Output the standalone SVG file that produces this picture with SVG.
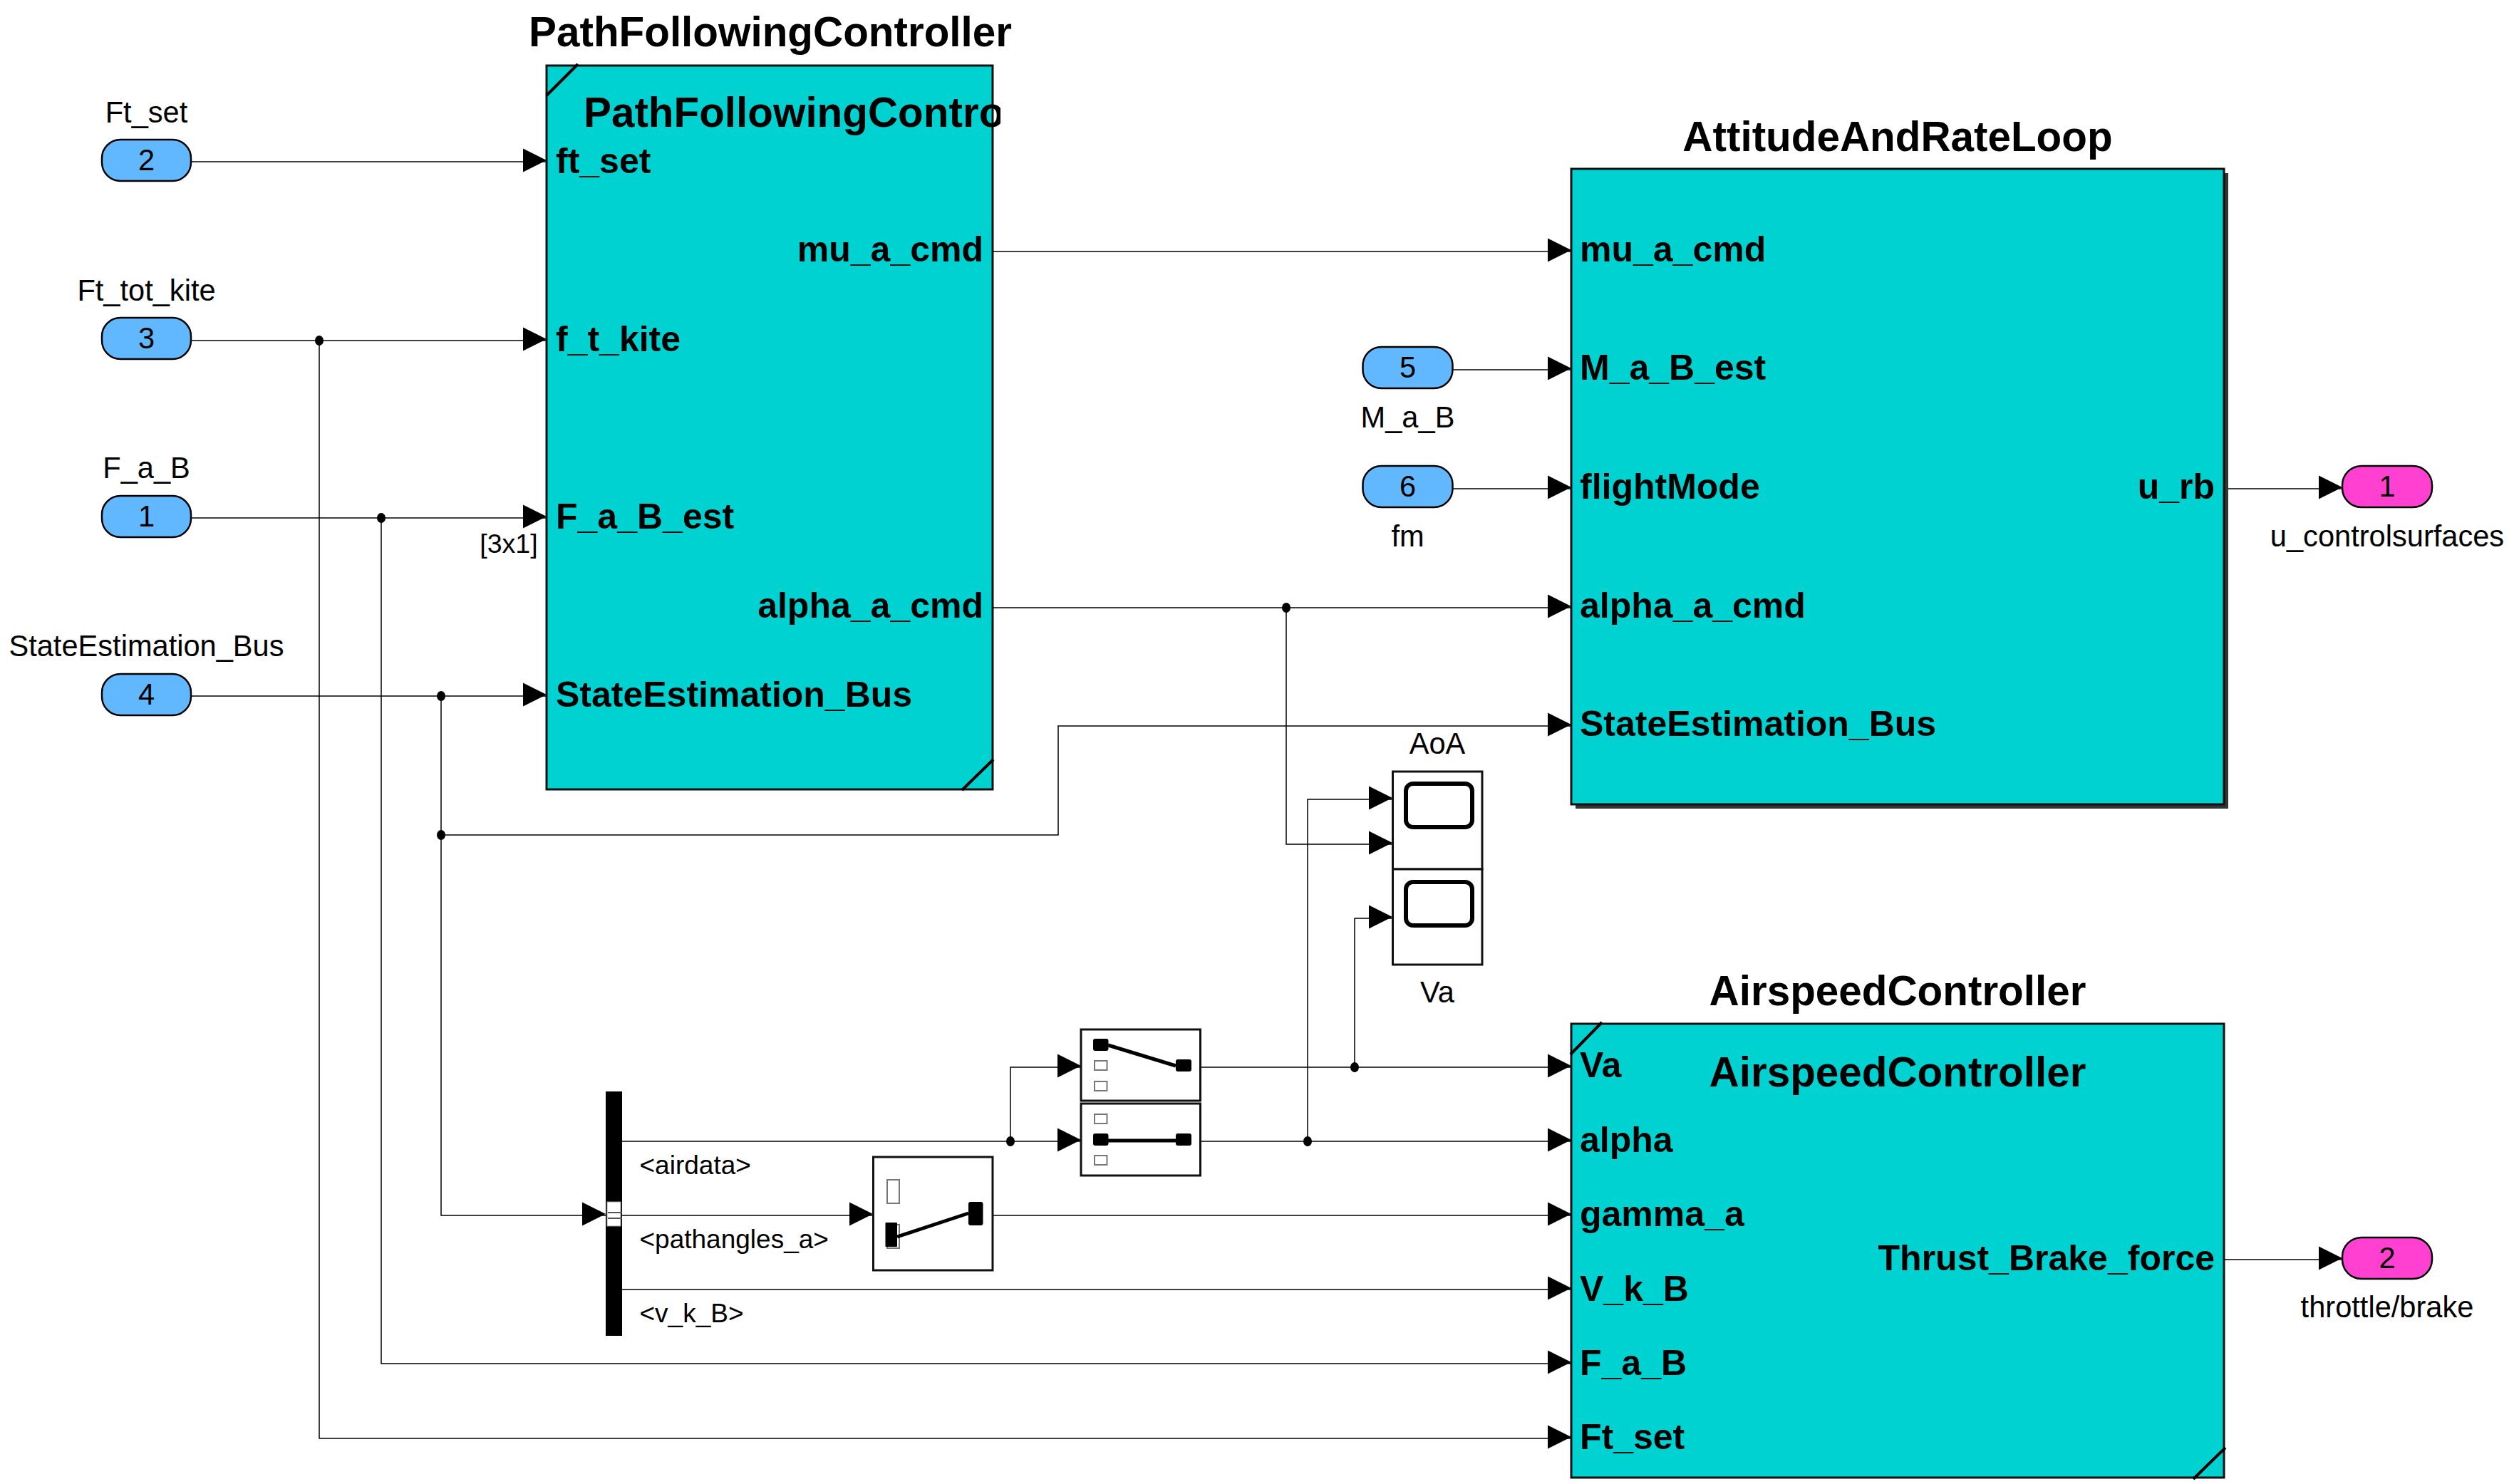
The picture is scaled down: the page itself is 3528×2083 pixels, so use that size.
<svg xmlns="http://www.w3.org/2000/svg" width="3528" height="2083" viewBox="0 0 3528 2083">
<style>
text{font-family:"Liberation Sans",Arial,sans-serif;fill:#000}
.l{font-size:41.600px;text-anchor:middle}
.s{font-size:37px}
.t{font-size:58.400px;font-weight:bold;text-anchor:middle}
.p{font-size:50px;font-weight:bold}
.r{text-anchor:end}
.blk{fill:#00d2d2;stroke:#111;stroke-width:3}
.c{fill:none;stroke:#000;stroke-width:4}
.in{fill:#62b8ff;stroke:#000;stroke-width:2.500}
.out{fill:#ff40d0;stroke:#000;stroke-width:2.500}
.w{fill:none;stroke:#000;stroke-width:1.500}
.a{marker-end:url(#arrow)}
.box{fill:#fff;stroke:#111;stroke-width:3}
.scr{fill:#fff;stroke:#000;stroke-width:6}
.pin{fill:#000}
.off{fill:#fff;stroke:#777;stroke-width:2}
.arm{stroke:#000;stroke-width:5;fill:none}
</style>
<defs>
<marker id="arrow" markerUnits="userSpaceOnUse" markerWidth="33" markerHeight="36" viewBox="0 0 33 36" refX="33" refY="20" orient="auto"><path d="M0 1.500L33 18L0 34.500Z" fill="#000"/></marker>
<clipPath id="pfclip"><rect x="760" y="90" width="644" height="1020"/></clipPath>
</defs>
<rect width="3528" height="2083" fill="#fff"/>

<g id="PathFollowingController">
<rect class="blk" x="767" y="92" width="626" height="1016"/>
<path class="c" d="M767 134L811 90M1350 1109L1394 1066"/>
<text class="t" x="1081" y="65">PathFollowingController</text>
<text class="t" x="819" y="178" style="text-anchor:start" clip-path="url(#pfclip)">PathFollowingContro</text>
<text class="p" x="780" y="243">ft_set</text>
<text class="p" x="780" y="493">f_t_kite</text>
<text class="p" x="780" y="742">F_a_B_est</text>
<text class="p" x="780" y="992">StateEstimation_Bus</text>
<text class="p r" x="1380" y="367">mu_a_cmd</text>
<text class="p r" x="1380" y="867">alpha_a_cmd</text>
</g>
<g id="AttitudeAndRateLoop">
<rect x="2211" y="243" width="916" height="892" fill="#333"/>
<rect class="blk" x="2205" y="237" width="916" height="892"/>
<text class="t" x="2663" y="212">AttitudeAndRateLoop</text>
<text class="p" x="2217" y="367">mu_a_cmd</text>
<text class="p" x="2217" y="533">M_a_B_est</text>
<text class="p" x="2217" y="700">flightMode</text>
<text class="p" x="2217" y="867">alpha_a_cmd</text>
<text class="p" x="2217" y="1033">StateEstimation_Bus</text>
<text class="p r" x="3108" y="700">u_rb</text>
</g>
<g id="AirspeedController">
<rect class="blk" x="2205" y="1437" width="916" height="637"/>
<path class="c" d="M2204 1480L2248 1435M3078 2076L3123 2032"/>
<text class="t" x="2663" y="1411">AirspeedController</text>
<text class="t" x="2663" y="1525">AirspeedController</text>
<text class="p" x="2217" y="1512">Va</text>
<text class="p" x="2217" y="1617">alpha</text>
<text class="p" x="2217" y="1721">gamma_a</text>
<text class="p" x="2217" y="1826">V_k_B</text>
<text class="p" x="2217" y="1930">F_a_B</text>
<text class="p" x="2217" y="2034">Ft_set</text>
<text class="p r" x="3108" y="1783">Thrust_Brake_force</text>
</g>

<g id="connectors">
<path class="w a" d="M268 227H767"/>
<path class="w a" d="M268 478H767"/>
<path class="w a" d="M268 727H767"/>
<path class="w a" d="M268 977H767"/>
<path class="w a" d="M448 478V2019H2205"/>
<path class="w a" d="M535 727V1914H2205"/>
<path class="w a" d="M619 977V1706H850"/>
<path class="w a" d="M619 1172H1485V1019H2205"/>
<path class="w a" d="M1393 353H2205"/>
<path class="w a" d="M2038 519H2205"/>
<path class="w a" d="M2038 686H2205"/>
<path class="w a" d="M1393 853H2205"/>
<path class="w a" d="M1805 853V1185H1954"/>
<path class="w a" d="M1835 1602V1122H1954"/>
<path class="w a" d="M1901 1498V1289H1954"/>
<path class="w a" d="M873 1602H1517"/>
<path class="w a" d="M1418 1602V1498H1517"/>
<path class="w a" d="M873 1706H1225"/>
<path class="w a" d="M873 1810H2205"/>
<path class="w a" d="M1685 1498H2205"/>
<path class="w a" d="M1685 1602H2205"/>
<path class="w a" d="M1393 1706H2205"/>
<path class="w a" d="M3127 686H3287"/>
<path class="w a" d="M3121 1768H3287"/>
<g fill="#000">
<ellipse cx="448" cy="478" rx="6" ry="7"/>
<ellipse cx="535" cy="727" rx="6" ry="7"/>
<ellipse cx="619" cy="977" rx="6" ry="7"/>
<ellipse cx="619" cy="1172" rx="6" ry="7"/>
<ellipse cx="1805" cy="853" rx="6" ry="7"/>
<ellipse cx="1418" cy="1602" rx="6" ry="7"/>
<ellipse cx="1835" cy="1602" rx="6" ry="7"/>
<ellipse cx="1901" cy="1498" rx="6" ry="7"/>
</g>
</g>

<g id="In2"><rect class="in" x="143" y="196" width="125" height="58" rx="26"/><text class="l" x="205.500" y="239">2</text><text class="l" x="205.500" y="172">Ft_set</text></g>
<g id="In3"><rect class="in" x="143" y="446" width="125" height="58" rx="26"/><text class="l" x="205.500" y="489">3</text><text class="l" x="205.500" y="422">Ft_tot_kite</text></g>
<g id="In1"><rect class="in" x="143" y="696" width="125" height="58" rx="26"/><text class="l" x="205.500" y="739">1</text><text class="l" x="205.500" y="671">F_a_B</text></g>
<g id="In4"><rect class="in" x="143" y="946" width="125" height="58" rx="26"/><text class="l" x="205.500" y="989">4</text><text class="l" x="205.500" y="921">StateEstimation_Bus</text></g>
<g id="In5"><rect class="in" x="1912.500" y="487" width="126" height="58" rx="26"/><text class="l" x="1975.500" y="530">5</text><text class="l" x="1975.500" y="600">M_a_B</text></g>
<g id="In6"><rect class="in" x="1912.500" y="654" width="126" height="58" rx="26"/><text class="l" x="1975.500" y="697">6</text><text class="l" x="1975.500" y="767">fm</text></g>
<g id="Out1"><rect class="out" x="3287" y="654" width="126" height="58" rx="27"/><text class="l" x="3350" y="697">1</text><text class="l" x="3350" y="767">u_controlsurfaces</text></g>
<g id="Out2"><rect class="out" x="3287" y="1737" width="126" height="58" rx="27"/><text class="l" x="3350" y="1780">2</text><text class="l" x="3350" y="1849">throttle/brake</text></g>
<g id="PortDim"><text class="s" x="714" y="776" text-anchor="middle" style="font-size:37.500px">[3x1]</text></g>

<g id="BusSelector">
<rect x="850" y="1532" width="23" height="343" fill="#000"/>
<rect x="852" y="1687" width="19" height="34" fill="#fff" stroke="#999" stroke-width="1"/>
<path d="M853 1702H873M853 1710H873" stroke="#555" stroke-width="2"/>
<text class="s" x="897.500" y="1648">&lt;airdata&gt;</text>
<text class="s" x="897.500" y="1752">&lt;pathangles_a&gt;</text>
<text class="s" x="897.500" y="1856">&lt;v_k_B&gt;</text>
</g>
<g id="Selector">
<rect class="box" x="1225.500" y="1624" width="167.500" height="159"/>
<rect class="off" x="1245" y="1656" width="17" height="33"/>
<rect class="off" x="1245" y="1719" width="17" height="33"/>
<rect class="pin" x="1242.500" y="1716" width="16.500" height="34" rx="1"/>
<rect class="pin" x="1359" y="1687" width="20.500" height="33" rx="3"/>
<path class="arm" d="M1259 1736L1359 1703"/>
</g>
<g id="Switch1">
<rect class="box" x="1517" y="1445" width="167.500" height="100"/>
<rect class="pin" x="1534" y="1458" width="21.500" height="17" rx="3"/>
<rect class="pin" x="1650" y="1487" width="22" height="17" rx="3"/>
<rect class="off" x="1536" y="1489" width="17.500" height="13"/>
<rect class="off" x="1536" y="1518" width="17.500" height="13"/>
<path class="arm" d="M1555 1467L1650 1496"/>
</g>
<g id="Switch2">
<rect class="box" x="1517" y="1549" width="167.500" height="101"/>
<rect class="off" x="1536" y="1564" width="17.500" height="13"/>
<rect class="pin" x="1534" y="1591" width="21.500" height="17" rx="3"/>
<rect class="pin" x="1650" y="1591" width="22" height="17" rx="3"/>
<rect class="off" x="1536" y="1622" width="17.500" height="13"/>
<path class="arm" d="M1555 1601H1650"/>
</g>
<g id="AoA">
<rect class="box" x="1954.500" y="1083" width="125.500" height="137"/>
<rect class="scr" x="1973" y="1100" width="93" height="61" rx="10"/>
<text class="l" x="2017" y="1058">AoA</text>
</g>
<g id="Va">
<rect class="box" x="1954.500" y="1220" width="125.500" height="134"/>
<rect class="scr" x="1973" y="1238" width="93" height="61" rx="10"/>
<text class="l" x="2017" y="1407">Va</text>
</g>
</svg>
